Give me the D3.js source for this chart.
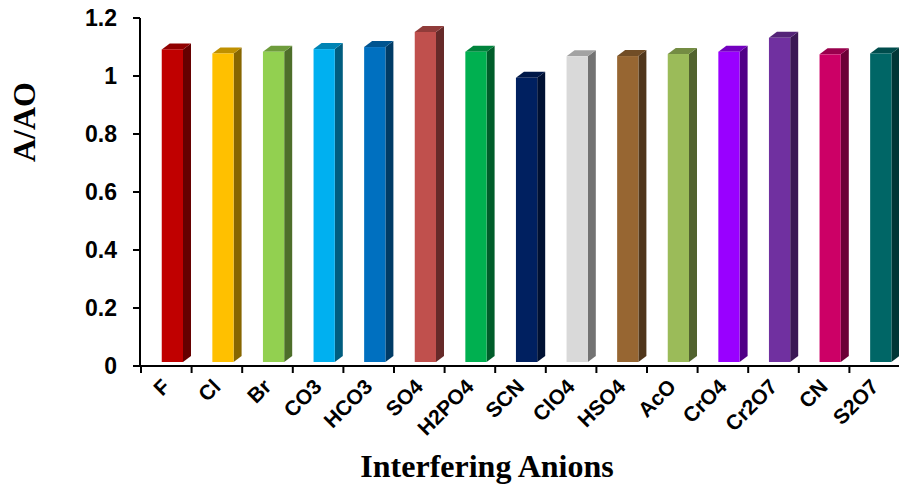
<!DOCTYPE html>
<html><head><meta charset="utf-8">
<script src="https://cdn.jsdelivr.net/npm/d3@7"></script>
<style>body{margin:0;background:#fff}svg{display:block}</style>
</head><body>
<svg id="c" width="899" height="489"></svg>
<script>
const categories = ["F","Cl","Br","CO3","HCO3","SO4","H2PO4","SCN","ClO4","HSO4","AcO","CrO4","Cr2O7","CN","S2O7"];
const values = [1.078,1.064,1.070,1.079,1.086,1.138,1.070,0.980,1.054,1.055,1.062,1.070,1.118,1.061,1.064];
const colors = ["#C00000","#FFC000","#92D050","#00B0F0","#0070C0","#C0504D","#00B050","#002060","#D9D9D9","#976632","#9BBB59","#9900FF","#7030A0","#CC0066","#006666"];
const yTicks = [0,0.2,0.4,0.6,0.8,1,1.2];
const yTitle = "A/AO";
const xTitle = "Interfering Anions";

const svg = d3.select("#c");
const x = d3.scaleBand().domain(categories).range([141, 900]).padding(0);
const y = d3.scaleLinear().domain([0,1.2]).range([366,18]);
const bw = x.bandwidth();
const depthX = 8, depthY = 6, lift = 4;

function shade(c,k){const r=d3.rgb(c);return d3.rgb(r.r*k,r.g*k,r.b*k).formatHex();}

const data = categories.map((c,i)=>({c, v:values[i], col:colors[i]}));
const g = svg.append("g");
data.forEach(d=>{
  const x0 = x(d.c) + bw*0.41, w = bw*0.42, x1 = x0 + w;
  const top = y(d.v) - lift, bot = y(0) - lift;
  g.append("polygon").attr("points",[[x1,top],[x1+depthX,top-depthY],[x1+depthX,bot-depthY],[x1,bot]].join(" ")).attr("fill",shade(d.col,0.53));
  g.append("polygon").attr("points",[[x0,top],[x0+depthX,top-depthY],[x1+depthX,top-depthY],[x1,top]].join(" ")).attr("fill",shade(d.col,0.75));
  g.append("rect").attr("x",x0).attr("y",top).attr("width",w).attr("height",bot-top).attr("fill",d.col);
});

// y axis
const ya = svg.append("g");
ya.append("line").attr("x1",140).attr("x2",140).attr("y1",y(1.2)).attr("y2",y(0)).attr("stroke","#000").attr("stroke-width",2);
yTicks.forEach(t=>{
  ya.append("line").attr("x1",133).attr("x2",140).attr("y1",y(t)).attr("y2",y(t)).attr("stroke","#000").attr("stroke-width",2);
  ya.append("text").attr("x",117).attr("y",y(t)).attr("dy","0.36em").attr("text-anchor","end")
    .attr("font-family","Liberation Sans, Arial, sans-serif").attr("font-weight","bold").attr("font-size",23).text(t);
});
// x axis
const xa = svg.append("g");
xa.append("line").attr("x1",133).attr("x2",899).attr("y1",y(0)).attr("y2",y(0)).attr("stroke","#000").attr("stroke-width",2);
categories.concat(["_end"]).forEach((c,i)=>{
  const xx = 141 + i*bw;
  xa.append("line").attr("x1",xx).attr("x2",xx).attr("y1",y(0)).attr("y2",y(0)+7).attr("stroke","#000").attr("stroke-width",2);
});
categories.forEach(c=>{
  const cx = x(c) + bw/2 + 5, cy = 388;
  xa.append("text").attr("transform",`translate(${cx},${cy}) rotate(-45)`).attr("text-anchor","end")
    .attr("font-family","Liberation Sans, Arial, sans-serif").attr("font-weight","bold").attr("font-size",21).text(c);
});
// titles
svg.append("text").attr("transform","translate(35,122) rotate(-90)").attr("text-anchor","middle")
  .attr("font-family","Liberation Serif, Times New Roman, serif").attr("font-weight","bold").attr("font-size",32).text(yTitle);
svg.append("text").attr("x",487).attr("y",477).attr("text-anchor","middle")
  .attr("font-family","Liberation Serif, Times New Roman, serif").attr("font-weight","bold").attr("font-size",32).text(xTitle);
</script>
</body></html>
